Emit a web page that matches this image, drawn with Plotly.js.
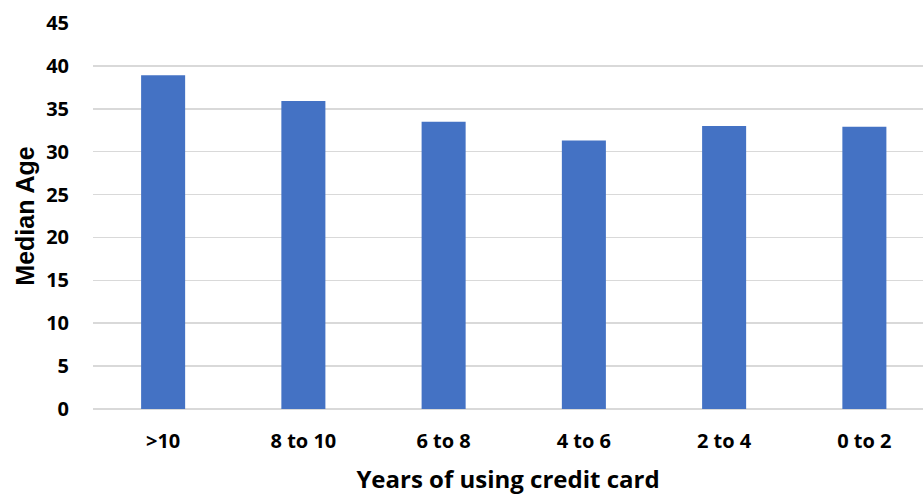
<!DOCTYPE html>
<html>
<head>
<meta charset="utf-8">
<script src="https://cdn.plot.ly/plotly-3.0.1.min.js"></script>
<style>
  html, body { margin: 0; padding: 0; background: #ffffff; }
  #chart { width: 923px; height: 496px; }
</style>
</head>
<body>
<div id="chart"></div>
<script>
// Median age of card holders by years of credit card use
const categories = [">10", "8 to 10", "6 to 8", "4 to 6", "2 to 4", "0 to 2"];
const medianAge = [38.9, 35.9, 33.5, 31.3, 33.0, 32.9];
const yTicks = [0, 5, 10, 15, 20, 25, 30, 35, 40, 45];

const textFont = "'Open Sans', Lato, 'DejaVu Sans', sans-serif";
const yTitleFont = "'Liberation Sans', Arial, sans-serif";

const trace = {
  type: "bar",
  x: categories,
  y: medianAge,
  marker: { color: "#4472c4" },
  hoverinfo: "x+y"
};

const layout = {
  width: 923,
  height: 496,
  margin: { l: 93, r: 0, t: 23, b: 87 },
  paper_bgcolor: "#ffffff",
  plot_bgcolor: "#ffffff",
  bargap: 0.686,
  showlegend: false,
  font: { family: textFont, color: "#000000" },
  xaxis: {
    type: "category",
    range: [-0.5, 5.418],
    showgrid: false,
    showline: false,
    zeroline: false,
    ticks: "",
    tickfont: { family: textFont, size: 20, color: "#000000", weight: "bold" },
    ticklabelstandoff: 18,
    title: {
      text: "<b>Years of using credit card</b>",
      font: { family: textFont, size: 24, color: "#000000" },
      standoff: 18
    }
  },
  yaxis: {
    range: [0, 45],
    tickvals: yTicks,
    ticktext: yTicks.map(String),
    showgrid: true,
    gridcolor: "#d9d9d9",
    gridwidth: 1.5,
    zeroline: true,
    zerolinecolor: "#d9d9d9",
    zerolinewidth: 1.5,
    showline: false,
    ticks: "",
    tickfont: { family: textFont, size: 20, color: "#000000", weight: "bold" },
    ticklabelstandoff: 23,
    title: {
      text: "<b>Median Age</b>",
      font: { family: yTitleFont, size: 25, color: "#000000" },
      standoff: 4
    }
  }
};

Plotly.newPlot("chart", [trace], layout, { displayModeBar: false, staticPlot: true });
</script>
</body>
</html>
